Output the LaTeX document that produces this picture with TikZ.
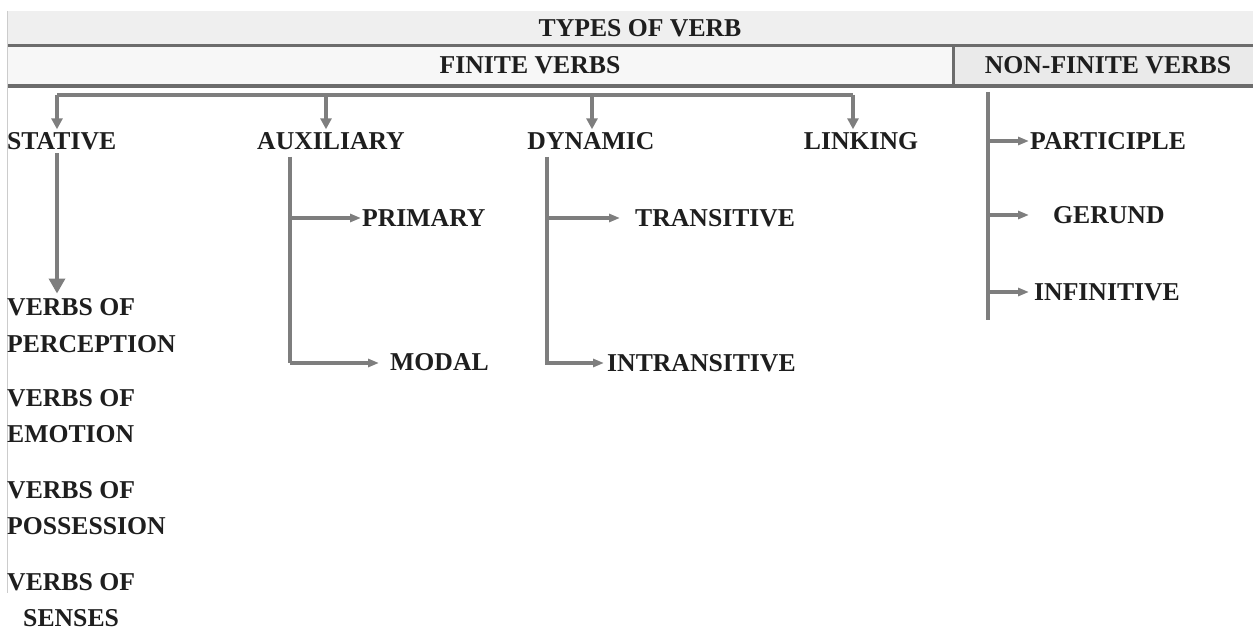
\documentclass[tikz,border=0pt]{standalone}
\usepackage{fontspec}
\setmainfont{Liberation Serif}
\usetikzlibrary{arrows.meta,calc}
\definecolor{lc}{HTML}{7E7E7E}
\definecolor{hc}{HTML}{6C6C6C}
\definecolor{tc}{HTML}{1E1E1E}
\definecolor{fa}{HTML}{EFEFEF}
\definecolor{fb}{HTML}{F7F7F7}
\definecolor{fc}{HTML}{EAEAEA}
\begin{document}
\begin{tikzpicture}[x=1pt,y=-1pt,
  lbl/.style={inner sep=0pt, text=tc, font=\fontsize{25.7}{36.5}\selectfont\bfseries, text height=17pt, text depth=0pt},
  mlbl/.style={inner sep=0pt, text=tc, font=\fontsize{25.7}{36.5}\selectfont\bfseries, align=left, anchor=north west},
  conn/.style={draw=lc, line width=3.4pt},
  arrbig/.style={conn, -{Triangle[length=15pt,width=16pt]}},
  arrmid/.style={conn, -{Triangle[length=11pt,width=11pt]}},
  arrsm/.style={conn, -{Triangle[length=11pt,width=8pt]}},
  hline/.style={draw=hc, line width=3.2pt}
]
\useasboundingbox (0,0) rectangle (1253,631);
\fill[white] (0,0) rectangle (1253,631);
% header bars
\fill[fa] (7,11) rectangle (1253,45);
\fill[fb] (7,47) rectangle (953,85);
\fill[fc] (953,47) rectangle (1253,85);
\draw[hline] (7,45.5) -- (1253,45.5);
\draw[hline] (7,86) -- (1253,86);
\draw[hline] (953.5,45.5) -- (953.5,86);
\draw[draw=black!20, line width=1pt] (7,11) -- (7,593);

\node[lbl] (types) at (640,28) {TYPES OF VERB};
\node[lbl] (finite) at (530,65) {FINITE VERBS};
\node[lbl] (nonfinite) at (1108,65) {NON-FINITE VERBS};

% finite categories
\node[lbl, anchor=west] (stative) at (7,141) {STATIVE};
\node[lbl] (aux) at (331,141) {AUXILIARY};
\node[lbl] (dyn) at (591,141) {DYNAMIC};
\node[lbl] (link) at (861,141) {LINKING};

\coordinate (b1) at (57,95);
\coordinate (b2) at (326,95);
\coordinate (b3) at (592,95);
\coordinate (b4) at (853,95);
\draw[conn] (b1) -- (b4);
\draw[arrmid, shorten >=3pt] (b1) -- (b1 |- stative.north);
\draw[arrmid, shorten >=3pt] (b2) -- (b2 |- aux.north);
\draw[arrmid, shorten >=3pt] (b3) -- (b3 |- dyn.north);
\draw[arrmid, shorten >=3pt] (b4) -- (b4 |- link.north);

% stative sub-types
\node[mlbl] (perc) at (7,298.5) {VERBS OF\\PERCEPTION};
\node[mlbl] (emot) at (7,389) {VERBS OF\\EMOTION};
\node[mlbl] (poss) at (7,481) {VERBS OF\\POSSESSION};
\node[mlbl, align=center] (sens) at (7,573) {VERBS OF\\SENSES};
\draw[arrbig, shorten <=3.5pt, shorten >=5pt] (stative.south -| b1) -- (perc.north -| b1);

% auxiliary
\node[lbl, anchor=west] (primary) at (362,218) {PRIMARY};
\node[lbl, anchor=west] (modal) at (390,362) {MODAL};
\coordinate (ax) at (290,157);
\coordinate (axend) at (290,363);
\draw[conn] (ax) -- (axend);
\draw[arrsm, shorten >=1pt] (ax |- primary.west) -- (primary.west);
\draw[arrsm, shorten >=11pt] (axend) -- (modal.west |- axend);

% dynamic
\node[lbl, anchor=west] (trans) at (635,218) {TRANSITIVE};
\node[lbl, anchor=west] (intrans) at (607,363) {INTRANSITIVE};
\coordinate (dx) at (547,157);
\coordinate (dxend) at (547,365);
\draw[conn] (dx) -- (dxend);
\draw[arrsm, shorten >=15pt] (dx |- trans.west) -- (trans.west);
\draw[arrsm, shorten >=3pt] (dxend |- intrans.west) -- (intrans.west);

% non-finite
\node[lbl, anchor=west] (part) at (1030,141) {PARTICIPLE};
\node[lbl, anchor=west] (ger) at (1053,215) {GERUND};
\node[lbl, anchor=west] (inf) at (1034,292) {INFINITIVE};
\coordinate (nf) at (988,92);
\coordinate (nfend) at (988,320);
\draw[conn] (nf) -- (nfend);
\draw[arrsm, shorten >=1pt] (nf |- part.west) -- (part.west);
\draw[arrsm, shorten >=24pt] (nf |- ger.west) -- (ger.west);
\draw[arrsm, shorten >=5pt] (nf |- inf.west) -- (inf.west);
\end{tikzpicture}
\end{document}
